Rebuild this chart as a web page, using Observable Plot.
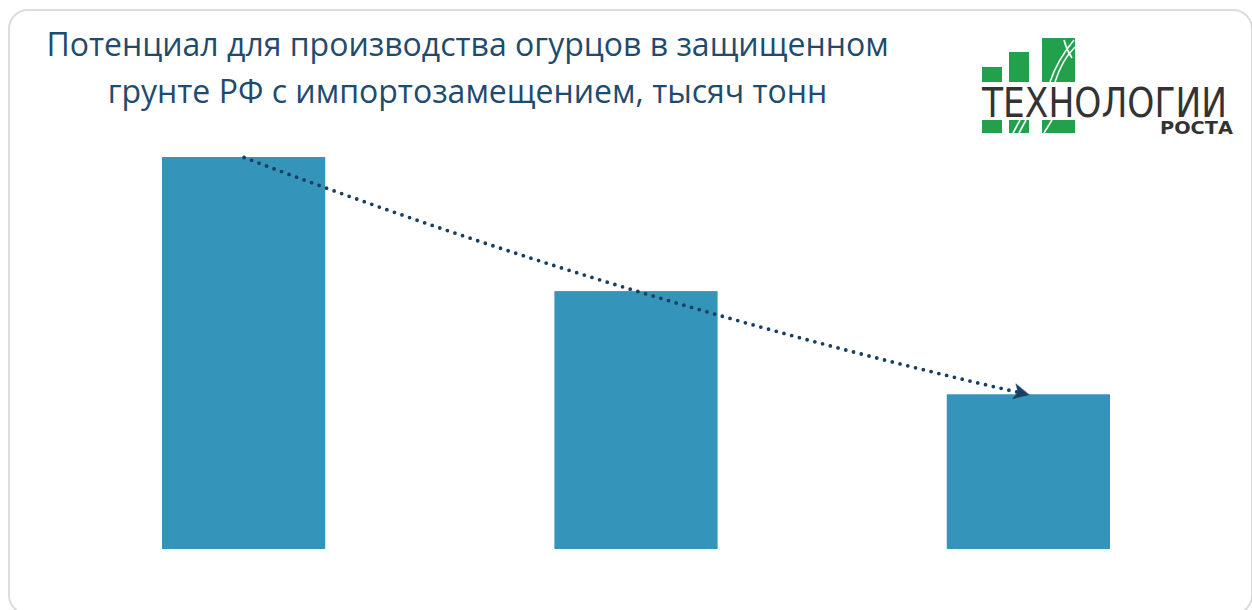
<!DOCTYPE html>
<html><head><meta charset="utf-8">
<script src="https://cdn.jsdelivr.net/npm/d3@7"></script>
<script src="https://cdn.jsdelivr.net/npm/@observablehq/plot@0.6"></script>
<style>
html,body{margin:0;padding:0;background:#fff;}
#wrap{position:relative;width:1252px;height:610px;overflow:hidden;background:#fff;}
#card{position:absolute;left:8px;top:9px;width:1245px;height:606px;border:2px solid #dcdcdc;border-radius:20px;box-sizing:border-box;}
#title{position:absolute;left:20px;top:20px;width:895px;text-align:center;font-family:"Open Sans",sans-serif;font-size:32px;line-height:47px;color:#1f4b6e;white-space:nowrap;}
#chart{position:absolute;left:0;top:0;}
#logo{position:absolute;left:960px;top:20px;}
</style></head>
<body>
<div id="wrap">
  <div id="card"></div>
  <div id="chart"></div>
  <div id="title">Потенциал для производства огурцов в защищенном<br>грунте РФ с импортозамещением, тысяч тонн</div>
  <svg id="logo" width="290" height="130" viewBox="960 20 290 130">
    <g fill="#22a04b">
      <rect x="982" y="67" width="20" height="15"/>
      <rect x="1009" y="52" width="20" height="30"/>
      <rect x="1042" y="38" width="33" height="44"/>
      <rect x="982" y="120" width="20" height="13"/>
      <rect x="1009" y="120" width="20" height="13"/>
      <rect x="1042" y="120" width="33" height="13"/>
    </g>
    <g stroke="#fff" stroke-width="1.6" fill="none">
      <path d="M1050,82 C1056,64 1064,52 1074,40"/>
      <path d="M1055,82 C1060,66 1067,55 1075,47"/>
      <path d="M1064,40 C1066,48 1068,52 1072,58"/>
      <path d="M1013,133 L1020,120"/>
      <path d="M1019,133 L1026,120"/>
      <path d="M1044,133 L1052,120"/>
    </g>
    <text x="982" y="117" textLength="245" lengthAdjust="spacingAndGlyphs" font-family="DejaVu Sans Condensed, DejaVu Sans, sans-serif" font-size="41" fill="#333">ТЕХНОЛОГИИ</text>
    <text x="1160" y="133.5" textLength="73" lengthAdjust="spacingAndGlyphs" font-family="DejaVu Sans Condensed, DejaVu Sans, sans-serif" font-weight="bold" font-size="17" fill="#333">РОСТА</text>
  </svg>
</div>
<script>
const categories = ["Сценарий 1", "Сценарий 2", "Сценарий 3"];
const values = [760, 500, 300];

const data = categories.map((c, i) => ({category: c, value: values[i]}));
const trend = [{x1: categories[0], y1: values[0], x2: categories[2], y2: values[2]}];

const stealth = {
  draw(context, l) {
    context.moveTo(0, -l);
    context.lineTo(7.5, 0);
    context.lineTo(0, -4);
    context.lineTo(-7.5, 0);
    context.closePath();
  }
};

const chart = Plot.plot({
  width: 1252,
  height: 610,
  marginTop: 157,
  marginBottom: 61,
  marginLeft: 162,
  marginRight: 142,
  style: {background: "transparent"},
  x: {domain: categories, type: "band", paddingInner: 0.584, paddingOuter: 0, round: false, axis: null},
  y: {domain: [0, 760], axis: null},
  marks: [
    Plot.barY(data, {x: "category", y: "value", fill: "#3494BA"}),
    Plot.arrow(trend, {x1: "x1", y1: "y1", x2: "x2", y2: "y2", bend: -4, headLength: 0, insetEnd: 12,
      stroke: "#173f63", strokeWidth: 3.8, strokeDasharray: "0,8", strokeLinecap: "round"}),
    Plot.vector(trend, {x: "x2", y: "y2", length: 15, rotate: 103, anchor: "end", shape: stealth,
      fill: "#173f63", stroke: "#173f63", strokeWidth: 0.5})
  ]
});
document.getElementById("chart").appendChild(chart);
</script>
</body></html>
